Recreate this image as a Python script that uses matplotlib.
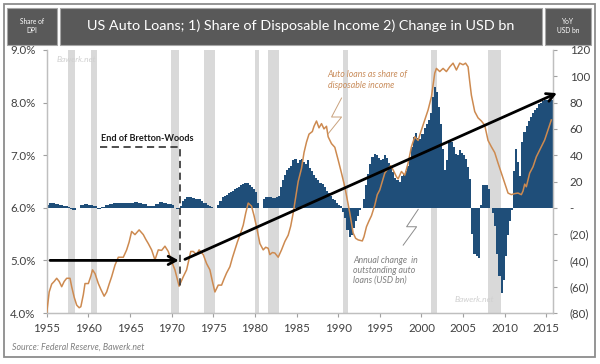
import matplotlib
matplotlib.use('Agg')
import matplotlib.pyplot as plt
from matplotlib.patches import Rectangle
import numpy as np

plt.rcParams['font.family'] = ['Lato', 'DejaVu Sans']

# ---------------- data ----------------
title = "US Auto Loans; 1) Share of Disposable Income 2) Change in USD bn"
left_label = "Share of\nDPI"
right_label = "YoY\nUSD bn"
source = "Source: Federal Reserve, Bawerk.net"

recession_start = [1957.6, 1960.3, 1969.95, 1973.85, 1980.05, 1981.55, 1990.55, 2001.2, 2007.95]
recession_end = [1958.35, 1961.1, 1970.9, 1975.2, 1980.55, 1982.9, 1991.2, 2001.9, 2009.5]

# quarterly annual change in outstanding auto loans (USD bn), 1955Q1 .. 2015Q3
bar_start_year = 1955
bar_values = [
    2, 3.5, 4, 4,      3, 3, 2, 2,        1.5, 1.5, 0.5, -1,   -2, -2, -0.5, -0.5,
    2, 2, 3, 3,        2.5, 2.5, 1, 1,    -1, -1, 0.5, 0.5,    2, 2, 3, 3,
    3.5, 3.5, 3.5, 3.5, 4, 4, 4, 4,       4, 4, 4.5, 4.5,      4, 4, 3, 3,
    1.5, 1.5, 1, 1,    3, 3, 4.5, 4.5,    4, 4, 3, 3,          2, 0, -1, -1,
    1, 5, 7, 8,        8, 8, 7.5, 7,      7, 6.5, 5, 4,        3.5, 2, 1, 0.5,
    0, 0, 2, 5,        8, 9, 10, 11,      12, 13, 14, 15,      16, 17, 18, 18.5,
    18.5, 17, 16, 14,  12, 4, 0, 0,       7, 8, 8, 8,          7.5, 7.5, 8, 9,
    16, 21, 25, 28.7,  30, 32, 36, 37,    34, 36, 37, 35,      33, 36, 30, 28,
    25, 23, 21, 19,    18, 16, 13, 11,    9, 7, 6, 4,          2.5, 1, -3, -8,
    -17, -22, -21, -15, -10, -6, -2, 0,   7, 17, 26, 33,       39, 41, 40, 38,
    36, 37, 40, 38,    34, 30, 27, 23,    21, 20, 24, 26,      28, 32, 36, 46,
    54, 57, 53, 52,    56, 61, 64, 67,    72, 84, 92, 88,      77, 64, 45, 29,
    36, 51, 50, 46,    41, 40, 44, 42,    40, 37, 31, 22,      -20, -35, -37, -38,
    2, 17, 17, 17,     14, 0, -4, -14,    -35, -52, -65, -55,  -37, -21, -10, -2,
    28, 45, 35, 24,    50, 58, 62, 66,    69, 72, 74, 76,      79, 80, 81, 82,
    82, 82, 82,
]

# auto loans as share of disposable income (%)
line_years = [
    1955.0, 1955.3, 1955.6, 1955.9, 1956.2, 1956.5, 1956.8, 1957.1, 1957.4, 1957.8,
    1958.0, 1958.3, 1958.6, 1958.9, 1959.1, 1959.4, 1959.6, 1960.0, 1960.3, 1960.5,
    1960.8, 1961.2, 1961.5, 1961.9, 1962.2, 1962.5, 1962.8, 1963.2, 1963.6, 1964.2,
    1964.6, 1964.9, 1965.2, 1965.6, 1966.1, 1966.6, 1966.9, 1967.2, 1967.6, 1968.0,
    1968.4, 1968.8, 1969.2, 1969.6, 1970.0, 1970.4, 1970.9, 1971.4, 1971.8, 1972.3,
    1972.6, 1973.0, 1973.3, 1973.8, 1974.2, 1974.6, 1974.9, 1975.2, 1975.6, 1976.0,
    1976.3, 1976.6, 1977.0, 1977.3, 1977.6, 1977.9, 1978.2, 1978.6, 1978.9, 1979.2,
    1979.6, 1979.9, 1980.2, 1980.6, 1981.0, 1981.3, 1981.6, 1981.8, 1982.1, 1982.4,
    1982.8, 1983.2, 1983.6, 1984.0, 1984.3, 1984.6, 1984.9, 1985.2, 1985.6, 1985.9,
    1986.2, 1986.5, 1986.9, 1987.1, 1987.4, 1987.7, 1988.0, 1988.3, 1988.6, 1988.8,
    1989.2, 1989.6, 1990.0, 1990.4, 1990.8, 1991.1, 1991.4, 1991.8, 1992.1, 1992.4,
    1992.9, 1993.1, 1993.4, 1993.7, 1994.0, 1994.4, 1994.7, 1995.0, 1995.3, 1995.6,
    1996.0, 1996.3, 1996.6, 1997.0, 1997.2, 1997.6, 1998.0, 1998.4, 1998.8, 1999.2,
    1999.6, 2000.0, 2000.4, 2000.8, 2001.2, 2001.6, 2001.8, 2002.2, 2002.6, 2003.0,
    2003.4, 2003.8, 2004.2, 2004.6, 2005.0, 2005.3, 2005.6, 2005.8, 2006.0, 2006.4,
    2006.8, 2007.2, 2007.6, 2008.0, 2008.4, 2008.8, 2009.2, 2009.6, 2010.0, 2010.4,
    2010.8, 2011.2, 2011.6, 2012.0, 2012.2, 2012.4, 2012.6, 2013.0, 2013.4, 2013.8,
    2014.4, 2014.8, 2015.2, 2015.6,
]
line_pct = [
    4.00, 4.40, 4.55, 4.60, 4.66, 4.60, 4.50, 4.60, 4.66, 4.66,
    4.50, 4.30, 4.15, 4.10, 4.12, 4.35, 4.56, 4.56, 4.70, 4.82,
    4.75, 4.56, 4.45, 4.32, 4.40, 4.55, 4.69, 4.91, 5.06, 5.06,
    5.20, 5.35, 5.55, 5.49, 5.58, 5.49, 5.40, 5.32, 5.20, 5.01,
    5.20, 5.19, 5.27, 5.17, 4.98, 4.82, 4.51, 4.69, 4.82, 5.17,
    5.17, 5.11, 5.20, 5.11, 4.94, 4.82, 4.60, 4.40, 4.53, 4.53,
    4.65, 4.76, 4.88, 5.05, 5.20, 5.35, 5.48, 5.67, 5.90, 6.09,
    6.03, 5.85, 5.64, 5.32, 5.20, 5.25, 5.23, 5.11, 5.15, 5.14,
    5.06, 5.20, 5.36, 5.48, 5.65, 5.90, 6.20, 6.50, 6.75, 7.05,
    7.25, 7.40, 7.45, 7.55, 7.65, 7.52, 7.60, 7.50, 7.55, 7.35,
    7.22, 7.15, 6.91, 6.66, 6.40, 6.15, 5.90, 5.52, 5.42, 5.39,
    5.37, 5.45, 5.64, 5.75, 5.85, 6.05, 6.25, 6.34, 6.50, 6.66,
    6.75, 6.80, 6.72, 6.59, 6.55, 6.69, 6.62, 6.85, 7.16, 7.35,
    7.28, 7.48, 7.67, 7.86, 8.11, 8.56, 8.65, 8.59, 8.65, 8.59,
    8.68, 8.75, 8.62, 8.75, 8.72, 8.75, 8.68, 8.40, 8.14, 7.83,
    7.71, 7.65, 7.57, 7.28, 7.16, 7.05, 6.85, 6.66, 6.47, 6.28,
    6.25, 6.27, 6.28, 6.25, 6.32, 6.45, 6.40, 6.66, 6.78, 6.97,
    7.16, 7.29, 7.48, 7.67,
]

x_ticks = [1955, 1960, 1965, 1970, 1975, 1980, 1985, 1990, 1995, 2000, 2005, 2010, 2015]
left_ticks = [4, 5, 6, 7, 8, 9]
left_tick_labels = ["4.0%", "5.0%", "6.0%", "7.0%", "8.0%", "9.0%"]
right_ticks = [-80, -60, -40, -20, 0, 20, 40, 60, 80, 100, 120]
right_tick_labels = ["(80)", "(60)", "(40)", "(20)", "-", "20", "40", "60", "80", "100", "120"]

# ---------------- styling ----------------
BLUE = '#1F4E79'
ORANGE = '#CD8A50'
REC = '#D9D9D9'
TXT = '#404040'
W, H = 600, 364

fig = plt.figure(figsize=(6, 3.64), dpi=100)

def fx(px):
    return px / W

def fy(py):
    return 1 - py / H

# outer frame
fig.add_artist(Rectangle((fx(4), fy(357)), fx(591), (353) / H, transform=fig.transFigure,
                         fill=False, edgecolor='#8C8C8C', lw=1.3))
# header boxes
for (x0, x1) in [(7, 57), (60, 542), (545, 591)]:
    fig.add_artist(Rectangle((fx(x0), fy(45)), fx(x1 - x0), 37 / H, transform=fig.transFigure,
                             facecolor='#595959', edgecolor='#A6A6A6', lw=0.8))
fig.text(fx(301), fy(26), title, color='white', fontsize=10.4, ha='center', va='center')
fig.text(fx(32), fy(26), left_label, color='white', fontsize=4.8, ha='center', va='center',
         linespacing=1.4)
fig.text(fx(568), fy(26), right_label, color='white', fontsize=4.8, ha='center', va='center',
         linespacing=1.4)
fig.text(fx(12), fy(347), source, color='#808080', fontsize=6.3, style='italic',
         ha='left', va='center')

ax = fig.add_axes([fx(46.7), fy(313), fx(553 - 46.7), (313 - 50) / H])
ax2 = ax.twinx()

# quarterly columns (bn) on the lower axes, ticks on the right
bar_edges = bar_start_year + np.arange(len(bar_values) + 1) * 0.25
step_vals = list(bar_values) + [bar_values[-1]]
for s, e in zip(recession_start, recession_end):
    ax.axvspan(s, e, color=REC, lw=0, zorder=0)
ax.fill_between(bar_edges, 0, step_vals, step='post', facecolor=BLUE, edgecolor='none',
                lw=0, antialiased=False, zorder=2)
ax.set_ylim(-80, 120)
ax.set_xlim(1955, 2015.8)
ax.yaxis.tick_right()
ax.set_yticks(right_ticks)
ax.set_yticklabels(right_tick_labels)
ax.tick_params(axis='y', which='both', right=True, left=False, direction='out', length=3,
               color='#A0A0A0', labelsize=8.3, labelcolor=TXT, pad=9)
for lab in ax.get_yticklabels():
    lab.set_horizontalalignment('left')
ax.set_xticks(x_ticks)
ax.tick_params(axis='x', direction='out', length=3, color='#A0A0A0', labelsize=8.3,
               labelcolor=TXT, pad=4)

# line (% of DPI) on twin axes, ticks on left
ax2.plot(line_years, line_pct, color=ORANGE, lw=1.1, zorder=3)
ax2.set_ylim(4, 9)
ax2.yaxis.tick_left()
ax2.set_yticks(left_ticks)
ax2.set_yticklabels(left_tick_labels)
ax2.tick_params(axis='y', which='both', left=True, right=False, direction='out', length=3,
                color='#A0A0A0', labelsize=8.3, labelcolor=TXT, pad=5)
ax2.patch.set_visible(False)

for a in (ax, ax2):
    a.spines['top'].set_visible(False)
    for sp in ('left', 'right', 'bottom'):
        a.spines[sp].set_color('#BFBFBF')
        a.spines[sp].set_linewidth(0.9)

# annotations (in % coordinates)
ax2.text(1967.1, 7.31, "End of Bretton-Woods", fontsize=6.6, fontweight='bold',
         ha='center', va='center', color='#1a1a1a')
ax2.plot([1961.4, 1970.95, 1970.95], [7.16, 7.16, 4.49], ls=(0, (4, 2.5)), color='#404040',
         lw=1.3, zorder=4)
ax2.annotate('', xy=(1970.85, 5.0), xytext=(1955.4, 5.0),
             arrowprops=dict(arrowstyle='->,head_length=0.55,head_width=0.3', lw=2,
                             color='black', shrinkA=0, shrinkB=0), zorder=5)
ax2.annotate('', xy=(2016.26, 8.18), xytext=(1971.6, 5.02), annotation_clip=False,
             arrowprops=dict(arrowstyle='->,head_length=0.55,head_width=0.3', lw=2,
                             color='black', shrinkA=0, shrinkB=0), zorder=5)

ax2.text(1988.75, 8.43, "Auto loans as share of\ndisposable income", fontsize=6.3,
         style='italic', color='#C98D5C', ha='left', va='center', linespacing=1.15)
ax2.plot([1990.41, 1989.21, 1990.41, 1988.81], [8.087, 7.726, 7.726, 7.41],
         color='#C9A27E', lw=0.7, zorder=4)
ax2.text(1991.8, 4.81, "Annual change  in\noutstanding auto\nloans (USD bn)", fontsize=6.3,
         style='italic', color='#7F7F7F', ha='left', va='center', linespacing=1.15)
ax2.plot([1999.61, 1998.22, 1999.42, 1997.81], [5.97, 5.64, 5.64, 5.29],
         color='#8C8C8C', lw=0.7, zorder=4)

ax2.text(1956.2, 8.82, "Bawerk.net", fontsize=6, style='italic', color='#D0D0D0',
         ha='left', va='center')
ax2.text(2004.0, 4.25, "Bawerk.net", fontsize=6, style='italic', color='#D0D0D0',
         ha='left', va='center')

fig.savefig('out.png', dpi=100)
